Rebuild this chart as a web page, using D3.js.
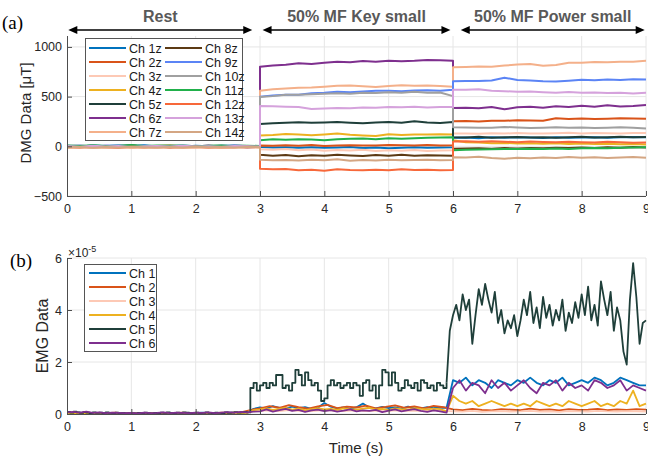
<!DOCTYPE html>
<html><head><meta charset="utf-8">
<script src="https://cdn.jsdelivr.net/npm/d3@7"></script>
<style>body{margin:0;background:#fff;} svg{display:block;font-family:"Liberation Sans",Arial,sans-serif;}</style>
</head><body><svg id="c" width="648" height="460"></svg>
<script>
// ---------- data ----------
const xTicks = [0,1,2,3,4,5,6,7,8,9];
const dmgTicks = [-500,0,500,1000];
const emgTicks = [0,2,4,6]; // in units of 1e-5
const phaseNames = ["Rest","50% MF Key small","50% MF Power small"];
const phaseSpans = [[0.02,2.88],[3.04,5.96],[6.12,8.98]];

const dmgNames = ["Ch 1z","Ch 2z","Ch 3z","Ch 4z","Ch 5z","Ch 6z","Ch 7z","Ch 8z","Ch 9z","Ch 10z","Ch 11z","Ch 12z","Ch 13z","Ch 14z"];
const dmgColors = ["#0072BD","#D95319","#FDC9B5","#EDB120","#1F3F3A","#7E2F8E","#F4B08A","#5C3A14","#5B84F5","#A0A0A0","#21B04B","#F7683A","#D5A2DC","#D4A683"];
// three segments, 16 samples each (t = 0..3, 3..6, 6..9 by 0.2 s), in µT
const dmgRest = [
 [5,-3,8,2,-6,4,10,-2,3,-5,6,0,-4,7,2,-3],
 [-8,-4,-10,-6,-2,-9,-5,-12,-3,-7,-10,-4,-8,-6,-11,-5],
 [-12,-8,-15,-10,-6,-13,-9,-14,-11,-7,-12,-9,-15,-8,-11,-13],
 [2,6,0,4,-2,5,1,3,7,0,4,2,-1,5,3,1],
 [4,0,6,-3,2,8,-1,3,5,0,-2,4,6,1,3,-4],
 [-5,2,-8,6,-3,10,-6,1,-9,4,-2,7,-4,0,-10,-6],
 [-15,-10,-18,-12,-8,-16,-11,-14,-9,-17,-12,-10,-15,-13,-8,-12],
 [0,-5,3,-8,-2,-6,1,-4,-7,2,-3,-5,0,-6,-2,-4],
 [3,8,-2,5,10,0,6,-3,4,9,1,-2,5,7,0,3],
 [-3,1,-6,2,-4,0,-7,3,-2,-5,1,-4,-1,-6,2,-3],
 [8,4,10,2,6,12,3,7,5,9,1,6,8,3,5,4],
 [-6,-12,-2,-9,-14,-5,-10,-3,-11,-7,-4,-13,-6,-9,-2,-8],
 [2,-4,5,-1,3,-6,0,4,-3,6,-2,1,-5,3,0,-2],
 [-10,-6,-14,-8,-12,-4,-9,-13,-7,-11,-5,-10,-8,-12,-6,-9]
];
const dmgKey = [
 [-8,-12,-10,-15,-9,-14,-11,-8,-18,-12,-20,-15,-10,-14,-12,-10],
 [8,5,10,6,12,4,8,11,7,9,13,10,8,12,9,10],
 [-30,-35,-28,-40,-33,-45,-38,-42,-35,-48,-40,-44,-38,-46,-42,-40],
 [110,115,125,118,112,120,128,116,110,104,122,115,118,120,122,118],
 [225,232,238,242,236,240,245,238,232,240,244,236,252,240,234,244],
 [800,812,820,835,828,840,850,846,858,852,862,856,860,868,866,860],
 [560,575,582,590,592,600,610,612,605,598,608,615,610,612,608,600],
 [-85,-95,-88,-100,-90,-96,-84,-92,-98,-88,-94,-86,-96,-90,-92,-94],
 [500,512,520,518,535,540,548,545,552,558,560,555,562,565,558,570],
 [495,505,518,520,525,530,535,528,540,536,545,540,548,538,542,505],
 [62,70,66,72,68,60,70,75,78,72,80,76,82,85,88,90],
 [-225,-232,-228,-240,-235,-245,-230,-238,-242,-236,-240,-232,-238,-235,-240,-238],
 [405,402,398,395,375,380,385,382,390,388,395,392,398,390,396,395],
 [-135,-140,-138,-142,-136,-140,-130,-145,-138,-142,-135,-140,-138,-136,-140,-138]
];
const dmgPower = [
 [85,88,82,90,86,92,88,84,90,86,88,92,85,90,94,90],
 [252,255,250,258,256,262,260,258,282,276,280,275,278,282,280,278],
 [128,130,126,132,128,134,130,128,132,136,130,134,132,130,135,133],
 [60,42,38,30,34,28,32,26,30,24,28,22,26,20,24,18],
 [92,88,95,86,90,94,88,92,86,90,95,88,92,96,90,94],
 [385,388,382,395,372,392,398,388,402,396,408,398,412,400,405,415],
 [795,798,802,800,812,822,828,810,818,840,842,848,846,850,852,860],
 [-25,-22,-20,-24,-18,-22,-16,-20,-14,-18,-12,-16,-10,-14,-8,-12],
 [655,658,656,662,690,668,662,655,652,660,670,665,672,668,675,672],
 [192,190,186,188,195,190,184,188,192,186,190,185,188,192,186,178],
 [-40,-35,-32,-30,-28,-26,-24,-28,-22,-26,-20,-16,-20,-14,-12,-10],
 [48,52,45,50,46,42,48,44,40,46,42,38,45,40,36,38],
 [570,568,574,560,555,548,552,545,540,546,538,542,536,540,532,538],
 [-110,-112,-105,-118,-125,-115,-120,-112,-118,-108,-115,-110,-118,-112,-108,-115]
];

const emgNames = ["Ch 1","Ch 2","Ch 3","Ch 4","Ch 5","Ch 6"];
const emgColors = ["#0072BD","#D95319","#FDC9B5","#EDB120","#1F3F3A","#7E2F8E"];
// EMG values in units of 1e-6, evenly spaced over 0..9 s
const emg1 = [0.4,0.3,0.5,0.2,0.4,0.3,0.2,0.4,0.3,0.2, 0.3,0.2,0.4,0.3,0.2,0.3,0.4,0.2,0.3,0.4, 0.3,0.5,0.3,0.4,0.3,0.5,0.4,0.3,0.5,
 2.0,
 2.5,2.2,3.0,2.4,2.1,2.8,2.3,2.6,2.0,2.4, 4.2,2.8,2.2,2.5,2.0,2.6,4.0,2.4,2.2,2.7, 2.3,2.5,2.1,2.8,2.4,2.2,2.6,2.3,2.5,
 2.4,
 13,12,14,11,13,12,10,13,12,11, 13,12,14,12,11,13,12,14,11,12, 13,12,14,13,11,12,14,13,12,11, 11];
const emg2 = [0.3,0.5,0.2,0.4,0.3,0.5,0.2,0.4,0.3,0.2,0.4,0.3,0.5,0.3,0.4,0.2,0.5,0.4,0.6,
 1.5,
 2.2,3.0,2.4,3.4,2.6,2.1,2.9,3.5,2.3,2.8,2.5,3.2,2.2,2.7,3.3,2.4,2.9,2.2,3.1,2.6,
 1.8,1.5,2.0,1.6,1.4,1.9,1.7,1.5,2.1,1.6,1.8,1.4,1.9,1.6,1.7,2.0,1.5,1.8,1.6,1.9,1.7];
const emg3 = [0.2,0.3,0.2,0.4,0.2,0.3,0.2,0.3,0.2,0.2,0.3,0.2,0.3,0.2,0.3,0.2,0.3,0.4,0.3,
 1.0,
 1.2,1.4,1.1,1.5,1.2,1.0,1.3,1.5,1.1,1.2,1.4,1.1,1.3,1.0,1.4,1.2,1.3,1.1,1.5,1.2,
 1.0,0.9,1.2,0.8,1.0,1.1,0.9,1.0,1.2,0.9,1.0,0.8,1.1,1.0,0.9,1.2,1.0,0.9,1.1,1.0,0.9];
const emg4 = [0.3,0.2,0.4,0.3,0.2,0.3,0.2,0.4,0.3,0.2, 0.3,0.2,0.3,0.4,0.2,0.3,0.2,0.3,0.4,0.2, 0.3,0.4,0.3,0.2,0.4,0.3,0.5,0.3,0.4,
 1.5,
 1.8,2.2,1.6,2.0,2.4,1.7,2.1,1.5,1.9,2.3, 1.8,2.0,1.6,2.2,1.9,1.7,2.1,2.4,1.8,2.0, 1.6,2.2,1.9,1.7,2.3,2.0,1.8,2.1,1.9,
 1.0,
 7,5,4,5,3,4,5,4,3,4, 3,4,3,5,4,3,4,3,5,4, 3,4,5,3,4,3,5,4,9,3, 4];
const emg5 = [0.8,0.5,0.9,0.6,0.4,0.7,0.5,0.3,0.6,0.4,0.5,0.3,0.6,0.4,0.2,0.5,0.3,0.4,0.2,0.3,
 0.3,0.2,0.4,0.3,0.5,0.3,0.2,0.4,0.3,0.5,0.4,0.6,0.4,0.3,0.5,0.4,0.6,0.5,0.3,0.4,
 0.5,0.3,0.4,0.6,0.4,0.3,0.5,0.4,0.3,0.6,0.4,0.5,0.7,0.5,0.6,0.8,0.6,
 10,12,9,
 11,12,10,12,11,15,15,10,11,9,12,17,15,11,16,13,11,12,9,5,
 6,11,13,11,12,10,11,12,10,12,11,7,12,13,9,11,6,11,17,16,
 11,16,12,9,10,13,11,10,12,9,13,12,10,11,9,12,11,10,12,
 32,38,42,36,46,40,44,27,38,48,42,50,44,39,47,35,40,31,36,33,38,
 30,36,44,38,47,35,41,33,45,37,42,34,40,36,44,32,39,35,43,37,
 46,38,49,36,42,34,51,44,38,47,32,41,36,24,19,44,58,45,27,35,36];
const emg6 = [0.6,0.8,0.5,0.9,0.4,0.6,0.3,0.5,0.4,0.3, 0.4,0.2,0.5,0.3,0.4,0.6,0.3,0.5,0.4,0.3, 0.5,0.4,0.6,0.3,0.5,0.7,0.5,0.8,0.6,
 0.9,
 1.0,1.8,0.9,1.5,2.0,1.2,1.6,0.8,1.4,1.7, 1.1,1.5,0.9,1.3,1.8,1.0,1.4,1.2,1.6,0.7, 1.3,1.8,1.0,1.5,1.9,1.2,0.8,1.4,1.0,
 0.5,
 10,13,9,12,11,8,13,10,12,9, 11,13,10,8,12,11,13,9,12,10, 11,9,13,12,10,11,13,9,11,10, 9];
const emgSeries = [emg1,emg2,emg3,emg4,emg5,emg6];
const stepUntil = 5.9; // Ch 5 drawn as held samples before this time

// ---------- drawing ----------
const svg = d3.select("#c");
const X0 = 67, X1 = 646;
const x = d3.scaleLinear().domain([0,9]).range([X0,X1]);
const yTop = d3.scaleLinear().domain([-500,1110]).range([196,36]);
const yBot = d3.scaleLinear().domain([0,6e-5]).range([414,258]);
const gridC = "#e6e6e6", axisC = "#4d4d4d", textC = "#262626";

function panel(y, yTickVals) {
  const g = svg.append("g");
  const [yb, ytop] = y.range();
  g.selectAll(".gx").data(xTicks.slice(1)).join("line")
    .attr("x1", d=>x(d)).attr("x2", d=>x(d)).attr("y1", yb).attr("y2", ytop)
    .attr("stroke", gridC).attr("stroke-width", 1);
  g.selectAll(".gy").data(yTickVals).join("line")
    .attr("x1", X0).attr("x2", X1).attr("y1", d=>y(d)).attr("y2", d=>y(d))
    .attr("stroke", gridC).attr("stroke-width", 1);
}
function axes(y, yTickVals, yFmt) {
  const [yb, ytop] = y.range();
  const ax = svg.append("g").attr("transform", `translate(0,${yb})`)
    .call(d3.axisBottom(x).tickValues(xTicks).tickSize(-5).tickPadding(8).tickFormat(d3.format("d")));
  const ay = svg.append("g").attr("transform", `translate(${X0},0)`)
    .call(d3.axisLeft(y).tickValues(yTickVals).tickSize(-5).tickPadding(5).tickFormat(yFmt));
  [ax, ay].forEach(a => {
    a.select(".domain").attr("stroke", axisC).attr("stroke-width", 1);
    a.selectAll(".tick line").attr("stroke", axisC);
    a.selectAll(".tick text").attr("fill", textC).style("font-size", "12.5px").style("font-family", '"Liberation Sans",Arial,sans-serif');
  });
  ay.select(".domain").attr("d", `M0.5,${yb}V${ytop}`);
  ax.select(".domain").attr("d", `M${X0},0.5H${X1}`);
}

// ---- top panel ----
panel(yTop, dmgTicks);
const seg = d3.range(16).map(i => i*0.2);
const dmgTime = seg.concat(seg.map(t=>t+3), seg.map(t=>t+6));
const lineTop = d3.line().x(d=>x(d[0])).y(d=>yTop(d[1]));
dmgNames.forEach((n,i) => {
  const vals = dmgRest[i].concat(dmgKey[i], dmgPower[i]);
  svg.append("path").datum(vals.map((v,k)=>[dmgTime[k], v]))
    .attr("d", lineTop).attr("fill","none").attr("stroke", dmgColors[i])
    .attr("stroke-width", 2).attr("stroke-linejoin","round");
});
axes(yTop, dmgTicks, d3.format("d"));

// ---- bottom panel ----
panel(yBot, emgTicks.map(v=>v*1e-5));
const lineLin = d3.line().x(d=>x(d[0])).y(d=>yBot(d[1]));
const lineStep = d3.line().curve(d3.curveStepAfter).x(d=>x(d[0])).y(d=>yBot(d[1]));
emgSeries.forEach((s,i) => {
  const n = s.length;
  const pts = s.map((v,k)=>[k*9/(n-1), v*1e-6]);
  const draw = (data, gen) => svg.append("path").datum(data)
    .attr("d", gen).attr("fill","none").attr("stroke", emgColors[i])
    .attr("stroke-width", 1.8).attr("stroke-linejoin","round");
  if (i === 4) {
    const a = pts.filter(p => p[0] <= stepUntil + 1e-9);
    const b = pts.filter(p => p[0] >= stepUntil - 1e-9);
    draw(a, lineStep);
    draw(b, lineLin);
  } else {
    draw(pts, lineLin);
  }
});
axes(yBot, emgTicks.map(v=>v*1e-5), d => String(Math.round(d*1e5)));

// exponent label
const ex = svg.append("text").attr("x", 68).attr("y", 257).attr("fill", textC).style("font-size","12px");
ex.append("tspan").text("×10");
ex.append("tspan").attr("dy", -5).style("font-size","9px").text("-5");

// ---- phase arrows & titles ----
phaseNames.forEach((p,i) => {
  const [a,b] = phaseSpans[i];
  const xa = x(a), xb = x(b), yA = 30;
  svg.append("line").attr("x1", xa+6).attr("x2", xb-6).attr("y1", yA).attr("y2", yA)
    .attr("stroke","#000").attr("stroke-width",1.5);
  svg.append("path").attr("d", `M${xa},${yA}L${xa+9},${yA-4}L${xa+9},${yA+4}Z`).attr("fill","#000");
  svg.append("path").attr("d", `M${xb},${yA}L${xb-9},${yA-4}L${xb-9},${yA+4}Z`).attr("fill","#000");
  svg.append("text").attr("x", (xa+xb)/2).attr("y", 22).attr("text-anchor","middle")
    .attr("fill","#595959").style("font-size","16px").style("font-weight","bold").text(p);
});

// ---- legends ----
function legend(names, colors, bx, by, bw, bh, rowY0, cols, colW, lx0) {
  svg.append("rect").attr("x", bx+0.5).attr("y", by+0.5).attr("width", bw).attr("height", bh)
    .attr("fill","#fff").attr("stroke","#555").attr("stroke-width",1);
  const perCol = Math.ceil(names.length/cols);
  names.forEach((n,i) => {
    const c = Math.floor(i/perCol), r = i%perCol;
    const lx = lx0 + c*colW, ly = rowY0 + r*14;
    svg.append("line").attr("x1", lx).attr("x2", lx+37).attr("y1", ly).attr("y2", ly)
      .attr("stroke", colors[i]).attr("stroke-width", 2.2);
    svg.append("text").attr("x", lx+40).attr("y", ly+4.5).attr("fill","#1a1a1a")
      .style("font-size","12.5px").text(n);
  });
}
legend(dmgNames, dmgColors, 85, 38, 157, 102, 48, 2, 76, 89);
legend(emgNames, emgColors, 84, 264, 72, 87, 273, 1, 0, 89);

// ---- axis labels ----
svg.append("text").attr("transform","translate(31,113) rotate(-90)").attr("text-anchor","middle")
  .attr("fill", textC).style("font-size","15px").text("DMG Data [μT]");
svg.append("text").attr("transform","translate(48,336) rotate(-90)").attr("text-anchor","middle")
  .attr("fill", textC).style("font-size","16px").text("EMG Data");
svg.append("text").attr("x", 356).attr("y", 453).attr("text-anchor","middle")
  .attr("fill", textC).style("font-size","15px").text("Time (s)");
svg.append("text").attr("x", 2).attr("y", 29).attr("fill","#000")
  .style("font-family",'"Liberation Serif","Times New Roman",serif').style("font-size","19px").text("(a)");
svg.append("text").attr("x", 10).attr("y", 267).attr("fill","#000")
  .style("font-family",'"Liberation Serif","Times New Roman",serif').style("font-size","19px").text("(b)");
</script></body></html>
